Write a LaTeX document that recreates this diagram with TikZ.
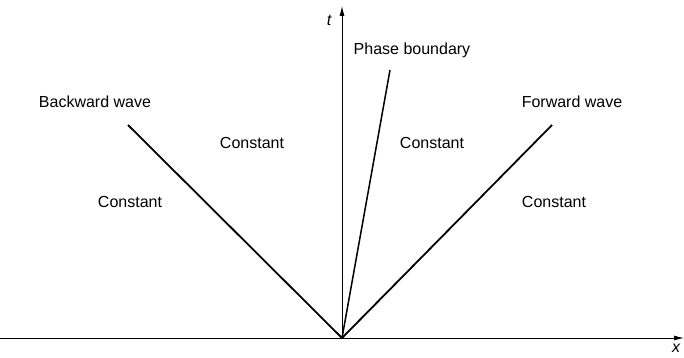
\documentclass[tikz,border=0pt]{standalone}
\usepackage{fontspec}
\setmainfont{Liberation Sans}
\usetikzlibrary{arrows.meta}
\begin{document}
\begin{tikzpicture}[x=1pt,y=-1pt,
  lbl/.style={font=\fontsize{16}{18}\selectfont, inner sep=0pt},
  axislbl/.style={font=\fontsize{16}{18}\selectfont\itshape, inner sep=0pt},
  wave/.style={line width=1.8pt},
  axis/.style={line width=0.9pt, -{Latex[length=10pt,width=5pt]}}]
\useasboundingbox (0,0) rectangle (684,358);
\coordinate (O) at (342,338);
\coordinate (xL) at (0,338);
\coordinate (xR) at (684,338);
\coordinate (tB) at (342,338);
\coordinate (tT) at (342,6);
\coordinate (bw) at (128,125);
\coordinate (fw) at (552,125);
\coordinate (pb) at (390,70);
\draw[axis] (xL) -- (xR);
\draw[axis] (tB) -- (tT);
\draw[wave] (O) -- (bw);
\draw[wave] (O) -- (fw);
\draw[line width=1.5pt] (O) -- (pb);
\node[axislbl] (tl) at (329,20) {t};
\node[axislbl] (xl) at (676,348) {x};
\node[lbl] (bwl) at (95,102) {Backward wave};
\node[lbl] (fwl) at (572,102) {Forward wave};
\node[lbl] (pbl) at (412,50) {Phase boundary};
\node[lbl] (c1) at (252,143) {Constant};
\node[lbl] (c2) at (130,202) {Constant};
\node[lbl] (c3) at (432,143) {Constant};
\node[lbl] (c4) at (554,202) {Constant};
\end{tikzpicture}
\end{document}
